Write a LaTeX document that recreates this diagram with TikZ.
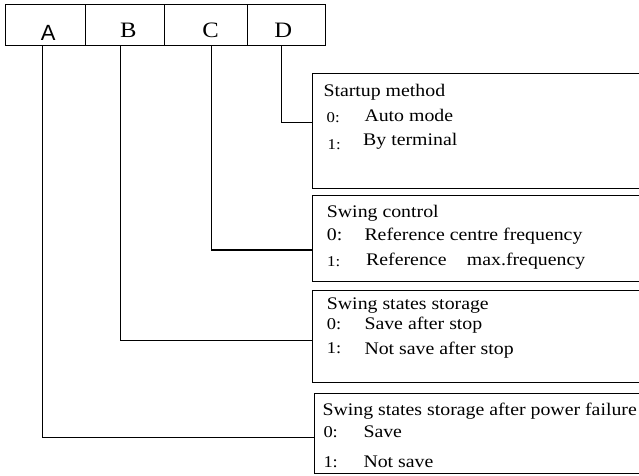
\documentclass[tikz,border=0pt]{standalone}
\usepackage{fontspec}
\setmainfont{Liberation Serif}
\newfontfamily\txtfont[FakeStretch=1.12]{Liberation Serif}
\newfontfamily\hsans{Liberation Sans}
\begin{document}
\begin{tikzpicture}[x=1pt,y=-1pt,
  cell/.style={draw, line width=1.3pt, anchor=north west, inner sep=0pt, minimum height=41pt},
  box/.style={draw, line width=1.4pt, anchor=north west, inner sep=0pt, minimum width=340pt},
  wire/.style={line width=1.2pt},
  head/.style={anchor=base, inner sep=0pt, font=\txtfont\fontsize{22}{24}\selectfont},
  lbl/.style={anchor=base west, inner sep=0pt, font=\txtfont\fontsize{17.7}{20}\selectfont},
  num/.style={anchor=base west, inner sep=0pt, font=\txtfont\fontsize{16.5}{18}\selectfont},
  snum/.style={anchor=base west, inner sep=0pt, font=\txtfont\fontsize{15}{16}\selectfont}]
\useasboundingbox (0,0) rectangle (639,475);
\clip (0,0) rectangle (639,475);
% header
\node[cell, minimum width=80pt] (cA) at (5,4) {};
\node[cell, minimum width=79pt] (cB) at (85,4) {};
\node[cell, minimum width=83pt] (cC) at (164,4) {};
\node[cell, minimum width=78pt] (cD) at (247,4) {};
\node[head, font=\hsans\fontsize{22}{24}\selectfont] (hA) at (48.3,40) {A};
\node[head] (hB) at (128.3,37.7) {B};
\node[head] (hC) at (210.7,37.7) {C};
\node[head] (hD) at (283.3,37.7) {D};
\coordinate (a) at (42.7,45);
\coordinate (b) at (120.3,45);
\coordinate (c) at (211.3,45);
\coordinate (d) at (281.7,45);
% boxes
\node[box, minimum height=115pt] (boxD) at (312,73) {};
\node[box, minimum height=86pt] (boxC) at (312,195) {};
\node[box, minimum height=92pt] (boxB) at (312,290) {};
\node[box, minimum height=80pt] (boxA) at (314,393) {};
% connectors
\coordinate (jD) at (0,122.7);
\coordinate (jC) at (0,250);
\coordinate (jB) at (0,340.7);
\coordinate (jA) at (0,437.7);
\draw[wire] (d) |- (boxD.west |- jD);
\draw[wire] (c) |- (boxC.west |- jC);
\draw[wire] (b) |- (boxB.west |- jB);
\draw[wire] (a) |- (boxA.west |- jA);
% box D
\node[lbl] (tD) at (323.3,96.7) {Startup method};
\node[snum] (d0) at (326.5,122.5) {0:};
\node[lbl] (d0t) at (364.3,121.5) {Auto mode};
\node[snum] (d1) at (327.5,149) {1:};
\node[lbl] (d1t) at (363,145) {By terminal};
% box C
\node[lbl] (tC) at (326.7,217.5) {Swing control};
\node[lbl] (c0) at (326.7,240) {0:};
\node[lbl] (c0t) at (364.3,240) {Reference centre frequency};
\node[snum] (c1) at (327,266) {1:};
\node[lbl] (c1t) at (366,265) {Reference};
\node[lbl] (c1u) at (466.7,265) {max.frequency};
% box B
\node[lbl] (tB) at (326.7,309) {Swing states storage};
\node[num] (b0) at (326.7,329) {0:};
\node[lbl] (b0t) at (364.3,329) {Save after stop};
\node[num] (b1) at (326.7,353) {1:};
\node[lbl] (b1t) at (364.3,354) {Not save after stop};
% box A
\node[lbl] (tA) at (322.3,415) {Swing states storage after power failure};
\node[num] (a0) at (323.3,437) {0:};
\node[lbl] (a0t) at (363.3,437) {Save};
\node[num] (a1) at (323.3,467) {1:};
\node[lbl] (a1t) at (363.3,467) {Not save};
\end{tikzpicture}
\end{document}
